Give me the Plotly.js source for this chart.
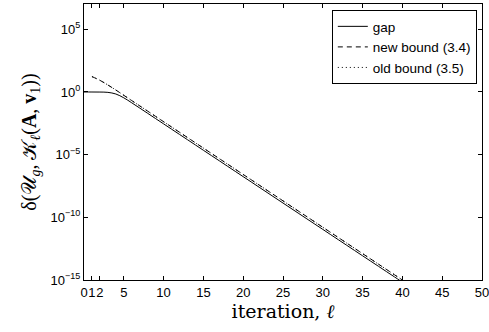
<!DOCTYPE html>
<html>
<head>
<meta charset="utf-8">
<script src="https://cdn.plot.ly/plotly-3.0.1.min.js"></script>
<style>html,body{margin:0;padding:0;background:#fff;}#chart{width:489px;height:332px;}</style>
</head>
<body>
<div id="chart"></div>
<script>
// iteration index
const iterGap = [0,1,2,3,4,5,6,7,8,9,10,11,12,13,14,15,16,17,18,19,20,21,22,23,24,25,26,27,28,29,30,31,32,33,34,35,36,37,38,39,40];
// gap values
const gapValues = [1,0.9986,0.989,0.933,0.692,0.342,0.1368,0.0522,1.986e-2,7.53e-3,2.86e-3,1.084e-3,4.11e-4,1.56e-4,5.92e-5,2.24e-5,8.51e-6,3.23e-6,1.225e-6,4.65e-7,1.76e-7,6.68e-8,2.54e-8,9.62e-9,3.65e-9,1.38e-9,5.25e-10,1.99e-10,7.55e-11,2.86e-11,1.09e-11,4.12e-12,1.56e-12,5.93e-13,2.25e-13,8.53e-14,3.24e-14,1.23e-14,4.66e-15,1.77e-15,6.70e-16];
const iterBound = [1,2,3,4,5,6,7,8,9,10,11,12,13,14,15,16,17,18,19,20,21,22,23,24,25,26,27,28,29,30,31,32,33,34,35,36,37,38,39,40,41];
// new bound (3.4)
const newBound = [17.0,8.51,3.63,1.432,0.543,0.206,0.0782,0.02965,0.01125,4.27e-3,1.62e-3,6.14e-4,2.33e-4,8.83e-5,3.35e-5,1.27e-5,4.82e-6,1.83e-6,6.93e-7,2.63e-7,9.98e-8,3.78e-8,1.435e-8,5.45e-9,2.065e-9,7.83e-10,2.97e-10,1.127e-10,4.28e-11,1.62e-11,6.15e-12,2.33e-12,8.85e-13,3.36e-13,1.27e-13,4.83e-14,1.83e-14,6.95e-15,2.64e-15,1.0e-15,3.79e-16];
// old bound (3.5)
const oldBound = [17.0,8.51,3.63,1.432,0.543,0.206,0.0782,0.02965,0.01125,4.27e-3,1.62e-3,6.14e-4,2.33e-4,8.83e-5,3.35e-5,1.27e-5,4.82e-6,1.83e-6,6.93e-7,2.63e-7,9.98e-8,3.78e-8,1.435e-8,5.45e-9,2.065e-9,7.83e-10,2.97e-10,1.127e-10,4.28e-11,1.62e-11,6.15e-12,2.33e-12,8.85e-13,3.36e-13,1.27e-13,4.83e-14,1.83e-14,6.95e-15,2.64e-15,1.0e-15,3.79e-16];
const seriesNames = ["gap","new bound (3.4)","old bound (3.5)"];
const xTickVals = [0,1,2,5,10,15,20,25,30,35,40,45,50];
const xTickText = ["0","1","2","5","10","15","20","25","30","35","40","45","50"];
const yTickVals = [1e5,1,1e-5,1e-10,1e-15];
const yTickText = ["10<sup>5</sup>","10<sup>0</sup>","10<sup>−5</sup>","10<sup>−10</sup>","10<sup>−15</sup>"];

const traces = [
  {x: iterGap, y: gapValues, name: seriesNames[0], mode: 'lines', line: {color: '#000', width: 1, dash: 'solid', shape: 'spline'}},
  {x: iterBound, y: newBound, name: seriesNames[1], mode: 'lines', line: {color: '#000', width: 1, dash: '5px,4px', shape: 'spline'}},
  {x: iterBound, y: oldBound, name: seriesNames[2], mode: 'lines', line: {color: '#000', width: 1, dash: '1px,3px', shape: 'spline'}}
];
const axisFont = {family: 'Liberation Sans, Arial, sans-serif', size: 13, color: '#000'};
const layout = {
  width: 489, height: 332,
  margin: {l: 84, r: 7, t: 4, b: 52},
  paper_bgcolor: '#fff', plot_bgcolor: '#fff',
  showlegend: true,
  legend: {x: 0.987, y: 0.978, xanchor: 'right', yanchor: 'top', bgcolor: '#fff', bordercolor: '#000', borderwidth: 1,
           font: {family: 'Liberation Sans, Arial, sans-serif', size: 13.5, color: '#000'}, itemwidth: 30, tracegroupgap: 0},
  xaxis: {range: [0, 50], tickmode: 'array', tickvals: xTickVals, ticktext: xTickText, tickangle: 0, ticks: 'inside', ticklen: 4,
          ticklabeloverflow: 'allow',
          showline: true, linecolor: '#000', linewidth: 1, mirror: 'ticks', showgrid: false, zeroline: false,
          tickfont: axisFont, tickcolor: '#000',
          title: {text: 'iteration, <i>ℓ</i>', font: {family: 'DejaVu Serif, Liberation Serif, serif', size: 19, color: '#000'}, standoff: 4}},
  yaxis: {type: 'log', range: [-15, 7.02], tickmode: 'array', tickvals: yTickVals, ticktext: yTickText, ticks: 'inside', ticklen: 4,
          ticklabeloverflow: 'allow',
          showline: true, linecolor: '#000', linewidth: 1, mirror: 'ticks', showgrid: false, zeroline: false,
          tickfont: axisFont, tickcolor: '#000',
          title: {text: 'δ(𝒰<sub><i>g</i></sub>, 𝒦<sub><i>ℓ</i></sub>(<b>A</b>, <b>v</b><sub>1</sub>))', font: {family: 'Liberation Serif, DejaVu Serif, serif', size: 20, color: '#000'}, standoff: 8}}
};
Plotly.newPlot('chart', traces, layout, {displayModeBar: false, staticPlot: true});
</script>
</body>
</html>
